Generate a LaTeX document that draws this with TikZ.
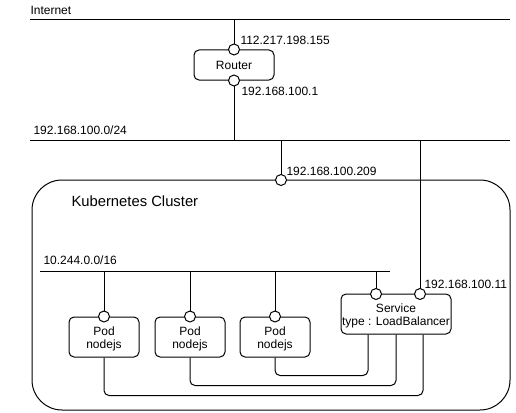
\documentclass[tikz,border=0pt]{standalone}
\usepackage{fontspec}
\setmainfont{Liberation Sans}
\usetikzlibrary{positioning}

\newcommand{\boxstrut}{\rule{0pt}{13pt}}

\begin{document}
\begin{tikzpicture}[x=1pt,y=-1pt,line width=1pt,
    box/.style={draw,rounded corners=5pt,minimum height=40pt,inner sep=0pt,
      align=center,font=\fontsize{12}{12.8}\selectfont},
    port/.style={draw,circle,fill=white,minimum size=11pt,inner sep=0pt},
    lbl/.style={font=\fontsize{12}{14}\selectfont,inner sep=0pt,anchor=base west}]
            \useasboundingbox (0,0) rectangle (516,412);
            % network buses
            \coordinate (inetL) at (30,20);
            \coordinate (inetR) at (510,20);
            \coordinate (lanL) at (30,140);
            \coordinate (lanR) at (510,140);
            \coordinate (podnetL) at (40,271);
            \coordinate (podnetR) at (390,271);
            \draw (inetL) -- (inetR);
            \draw (lanL) -- (lanR);
            % router
            \node [box, minimum width=80pt, minimum height=30pt] (router) at (234,65) {Router};
            % cluster
            \node [draw, rounded corners=30pt, minimum width=478pt, minimum height=230pt] (cluster) at (271,295) {};
            \draw (podnetL) -- (podnetR);
            % pods and service
            \node [box, minimum width=70pt] (pod1) at (104,337) {\boxstrut Pod\\nodejs};
            \node [box, minimum width=70pt] (pod2) at (190,337) {\boxstrut Pod\\nodejs};
            \node [box, minimum width=70pt] (pod3) at (275,337) {\boxstrut Pod\\nodejs};
            \node [box, minimum width=110pt] (svc) at (396,314) {\boxstrut Service\\type : LoadBalancer};
            % links
            \draw (router.north) -- (router.north |- inetL);
            \draw (router.south) -- (router.south |- lanL);
            \draw (281,180) -- (281,140);
            \draw (420,294) -- (420,140);
            \draw (pod1.north) -- (pod1.north |- podnetL);
            \draw (pod2.north) -- (pod2.north |- podnetL);
            \draw (pod3.north) -- (pod3.north |- podnetL);
            \draw (376,294) -- (376,271);
            \draw [rounded corners=5pt] (pod3.south) -- ++(0,18) -| ([xshift=-28pt]svc.south);
            \draw [rounded corners=5pt] (pod2.south) -- ++(0,28) -| (svc.south);
            \draw [rounded corners=5pt] (pod1.south) -- ++(0,38) -| ([xshift=27pt]svc.south);
            % ports
            \node [port] (rtin) at (router.north) {};
            \node [port] (rtout) at (router.south) {};
            \node [port] (clport) at (281,180) {};
            \node [port] (svcint) at (376,294) {};
            \node [port] (svcext) at (420,294) {};
            \node [port] (p1) at (pod1.north) {};
            \node [port] (p2) at (pod2.north) {};
            \node [port] (p3) at (pod3.north) {};
            % labels
            \node [lbl] at (30,15) {Internet};
            \node [lbl] at (240,45) {112.217.198.155};
            \node [lbl] at (241,95) {192.168.100.1};
            \node [lbl] at (33,134) {192.168.100.0/24};
            \node [lbl] at (286,175) {192.168.100.209};
            \node [lbl, font=\fontsize{14.8}{16}\selectfont] at (71,206.5) {Kubernetes Cluster};
            \node [lbl] at (43,264) {10.244.0.0/16};
            \node [lbl] at (424,288) {192.168.100.11};
        \end{tikzpicture}
\end{document}
